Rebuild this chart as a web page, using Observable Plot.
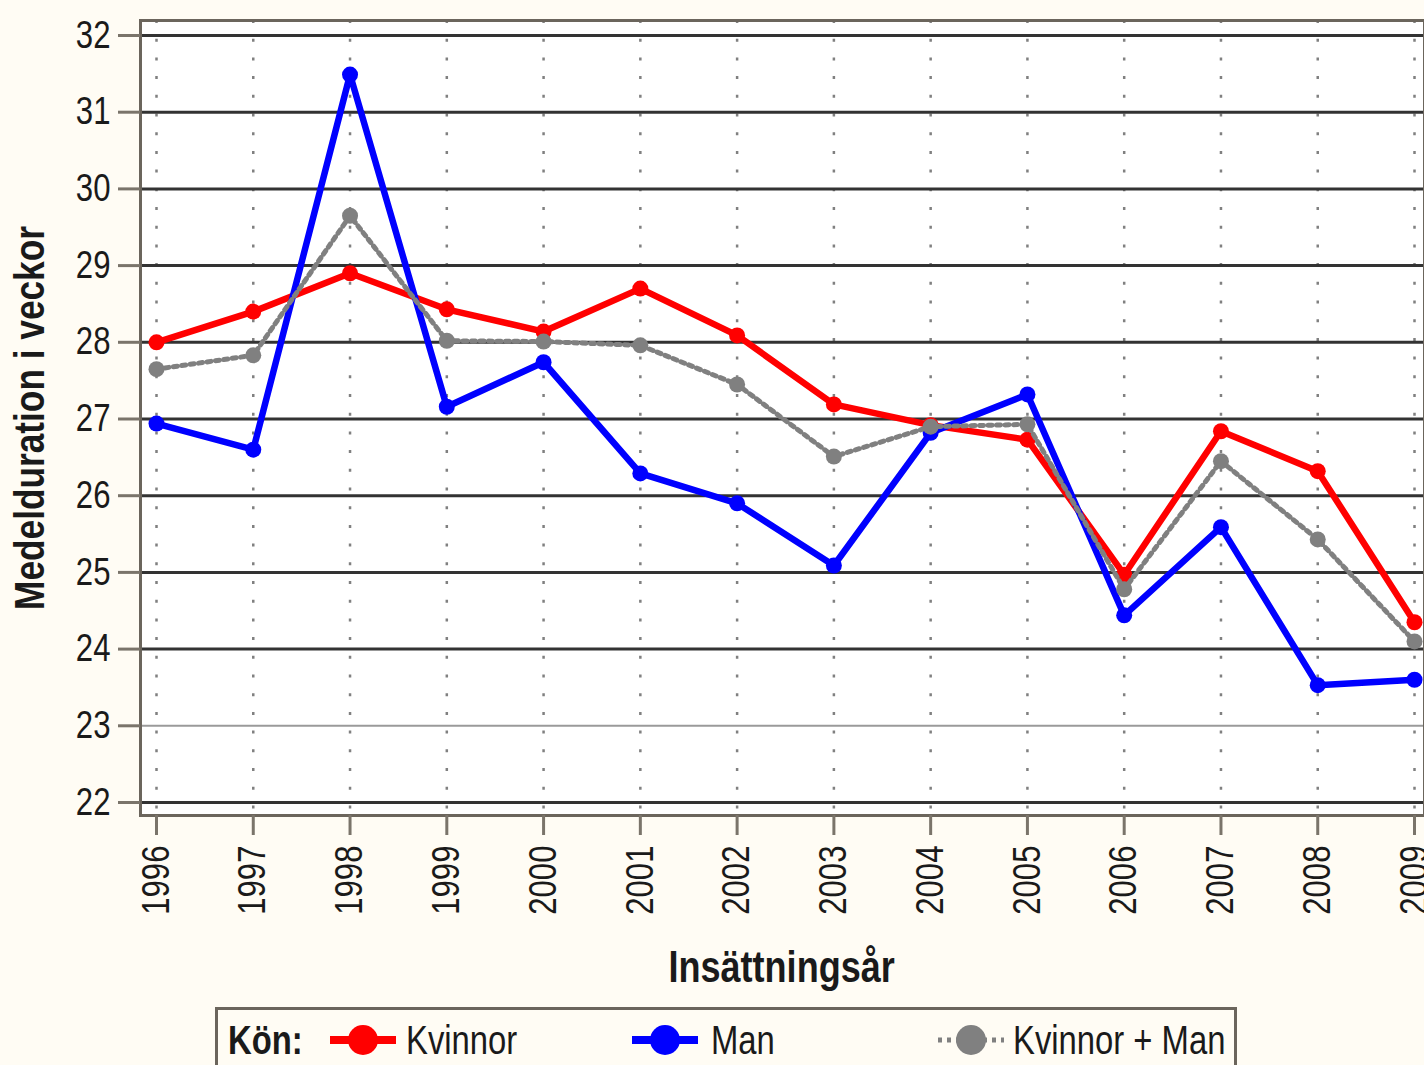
<!DOCTYPE html>
<html>
<head>
<meta charset="utf-8">
<script src="https://cdn.jsdelivr.net/npm/d3@7"></script>
<script src="https://cdn.jsdelivr.net/npm/@observablehq/plot@0.6"></script>
<style>
  html, body { margin: 0; padding: 0; background: #fffcf4; }
  body { width: 1424px; height: 1065px; overflow: hidden; font-family: "Liberation Sans", Arial, sans-serif; }
  #chart svg { display: block; }
  #legend {
    position: relative; margin-left: 215px; margin-top: 7px; width: 1022px; height: 80px;
    border: 3px solid #6b655c; box-sizing: border-box; background: #fffcf4;
    font-size: 40px; color: #1a1a1a;
  }
  #legend .item {
    position: absolute; top: 8px; height: 44px; line-height: 44px; white-space: nowrap;
    transform: scaleX(0.82); transform-origin: left center;
  }
  #legend b { font-weight: bold; }
</style>
</head>
<body>
<div id="chart"></div>
<div id="legend"></div>
<script>
const years = [1996, 1997, 1998, 1999, 2000, 2001, 2002, 2003, 2004, 2005, 2006, 2007, 2008, 2009];
const kvinnor = [28.0, 28.4, 28.9, 28.43, 28.14, 28.7, 28.09, 27.19, 26.92, 26.73, 24.97, 26.84, 26.32, 24.35];
const man = [26.94, 26.6, 31.49, 27.16, 27.74, 26.29, 25.9, 25.09, 26.82, 27.32, 24.44, 25.59, 23.53, 23.6];
const total = [27.65, 27.83, 29.65, 28.02, 28.01, 27.96, 27.45, 26.51, 26.9, 26.93, 24.78, 26.45, 25.43, 24.1];
const yTicks = [22, 23, 24, 25, 26, 27, 28, 29, 30, 31, 32];
const seriesNames = ["Kvinnor", "Man", "Kvinnor + Man"];
const seriesColors = ["#ff0000", "#0000ff", "#808080"];
const yTitle = "Medelduration i veckor";
const xTitle = "Insättningsår";
const legendTitle = "Kön:";

const rows = (vals, s) => years.map((yr, i) => ({year: yr, value: vals[i], series: s}));
const dK = rows(kvinnor, seriesNames[0]);
const dM = rows(man, seriesNames[1]);
const dT = rows(total, seriesNames[2]);

const chart = Plot.plot({
  width: 1424,
  height: 1000,
  marginLeft: 140,
  marginRight: 0,
  marginTop: 20,
  marginBottom: 185,
  insetLeft: 16,
  insetRight: 10,
  insetTop: 15,
  insetBottom: 13,
  style: {background: "transparent", fontFamily: '"Liberation Sans", Arial, sans-serif', fontSize: "38px", color: "#1a1a1a"},
  x: {domain: [1996, 2009]},
  y: {domain: [22, 32]},
  marks: [
    Plot.frame({fill: "white", stroke: "none"}),
    Plot.ruleX(years, {x: d => d, stroke: "#808080", strokeWidth: 2.5, strokeDasharray: "3,15.7"}),
    Plot.ruleY(yTicks.filter(t => t !== 23), {y: d => d, stroke: "#333", strokeWidth: 3}),
    Plot.ruleY([23], {y: d => d, stroke: "#9a9a9a", strokeWidth: 2}),
    Plot.frame({stroke: "#6b655c", strokeWidth: 3, fill: "none"}),
    Plot.axisY(yTicks, {
      tickSize: 22, tickPadding: 8, stroke: "#7a746a", strokeWidth: 3,
      tickFormat: d => String(d), fontSize: 38, label: null
    }),
    Plot.axisX(years, {
      tickSize: 20, tickPadding: 10, tickRotate: -90, stroke: "#7a746a", strokeWidth: 3,
      tickFormat: d => String(d), fontSize: 38, label: null
    }),
    Plot.text([yTitle], {frameAnchor: "left", textAnchor: "middle", dx: -110, rotate: -90, fontSize: 43, fontWeight: "bold", fill: "#1a1a1a"}),
    Plot.text([xTitle], {x: () => 2002.46, frameAnchor: "bottom", dy: 166, fontSize: 44, fontWeight: "bold", fill: "#1a1a1a"}),
    Plot.line(dK, {x: "year", y: "value", stroke: seriesColors[0], strokeWidth: 6.5}),
    Plot.dot(dK, {x: "year", y: "value", fill: seriesColors[0], r: 8}),
    Plot.line(dM, {x: "year", y: "value", stroke: seriesColors[1], strokeWidth: 6.5}),
    Plot.dot(dM, {x: "year", y: "value", fill: seriesColors[1], r: 8}),
    Plot.line(dT, {x: "year", y: "value", stroke: seriesColors[2], strokeWidth: 5, strokeDasharray: "4,4.5"}),
    Plot.dot(dT, {x: "year", y: "value", fill: seriesColors[2], r: 8})
  ]
});
document.getElementById("chart").appendChild(chart);

// Narrow the text horizontally (reference uses a condensed face); scale only along the text direction
chart.querySelectorAll("text").forEach(t => {
  const tr = t.getAttribute("transform") || "";
  const xa = t.getAttribute("x");
  let pre = "";
  if (xa !== null && /^-?[\d.]+$/.test(xa.trim())) {
    pre = ` translate(${parseFloat(xa)},0)`;
    t.removeAttribute("x");
  }
  t.setAttribute("transform", `${tr}${pre} scale(0.82,1)`);
});

// Legend
const legend = document.getElementById("legend");
const title = document.createElement("div");
title.className = "item";
title.style.left = "10px";
title.innerHTML = "<b>" + legendTitle + "</b>";
legend.appendChild(title);
const positions = [{sym: 110, text: 188}, {sym: 412, text: 493}, {sym: 718, text: 795}];
seriesNames.forEach((name, i) => {
  const s = document.createElementNS("http://www.w3.org/2000/svg", "svg");
  s.setAttribute("width", 70); s.setAttribute("height", 44);
  s.style.position = "absolute"; s.style.left = positions[i].sym + "px"; s.style.top = "8px";
  const ln = document.createElementNS("http://www.w3.org/2000/svg", "line");
  ln.setAttribute("x1", 2); ln.setAttribute("x2", 68); ln.setAttribute("y1", 22); ln.setAttribute("y2", 22);
  ln.setAttribute("stroke", seriesColors[i]); ln.setAttribute("stroke-width", i === 2 ? 5 : 8);
  if (i === 2) ln.setAttribute("stroke-dasharray", "4,5");
  s.appendChild(ln);
  const c = document.createElementNS("http://www.w3.org/2000/svg", "circle");
  c.setAttribute("cx", 35); c.setAttribute("cy", 22); c.setAttribute("r", 15);
  c.setAttribute("fill", seriesColors[i]);
  s.appendChild(c);
  legend.appendChild(s);
  const t = document.createElement("div");
  t.className = "item"; t.style.left = positions[i].text + "px";
  t.textContent = name;
  legend.appendChild(t);
});
</script>
</body>
</html>
